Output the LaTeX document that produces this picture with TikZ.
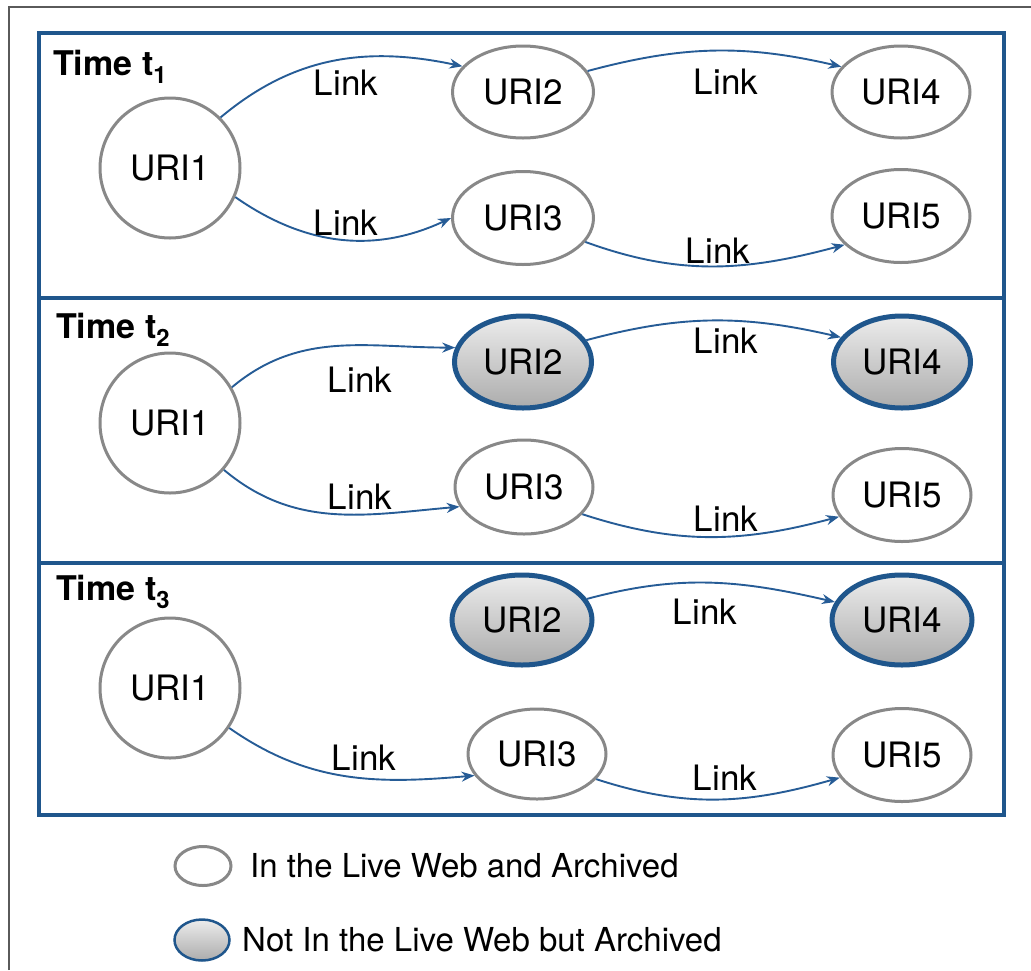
\documentclass[tikz,border=0pt]{standalone}
\usepackage{fontspec}
\setmainfont{TeX Gyre Heros}
\usetikzlibrary{shapes.geometric,arrows.meta}
\definecolor{panelblue}{RGB}{31,86,140}
\definecolor{linkblue}{RGB}{38,92,150}
\definecolor{ringgray}{RGB}{136,136,136}
\definecolor{framegray}{RGB}{90,90,90}
\definecolor{shadetop}{RGB}{236,236,236}
\definecolor{shadebot}{RGB}{172,172,172}
\begin{document}
\begin{tikzpicture}[x=1pt,y=1pt,
  live/.style={ellipse, draw=ringgray, line width=3pt, fill=white, inner sep=0pt, font=\fontsize{35}{40}\selectfont},
  gone/.style={ellipse, draw=panelblue, line width=5pt, top color=shadetop, bottom color=shadebot, inner sep=0pt, font=\fontsize{35}{40}\selectfont},
  linklbl/.style={inner sep=0pt, font=\fontsize{35}{40}\selectfont},
  timelbl/.style={anchor=base west, inner sep=0pt, font=\fontsize{34}{40}\selectfont\bfseries},
  legendlbl/.style={anchor=west, inner sep=0pt, font=\fontsize{33}{38}\selectfont},
  link/.style={draw=linkblue, line width=1.9pt, -{Stealth[length=13pt,width=10pt]}},
  panel/.style={draw=panelblue, line width=4.5pt}]
\useasboundingbox (0,0) rectangle (1031,-970);
% outer frame
\draw[framegray, line width=1.2pt] (9,-970) -- (9,-7) -- (1031,-7);
% panels
\draw[panel] (39,-33) rectangle (1004,-298);
\draw[panel] (39,-298) rectangle (1004,-563);
\draw[panel] (39,-563) rectangle (1004,-815);
% ---------- Panel 1
\node[timelbl] (t1) at (53,-75) {Time t\textsubscript{1}};
\node[live, minimum width=140pt, minimum height=140pt] (u1a) at (170,-168) {URI1};
\node[live, minimum width=141pt, minimum height=92pt] (u2a) at (523,-92) {URI2};
\node[live, minimum width=138pt, minimum height=92pt] (u4a) at (901,-92) {URI4};
\node[live, minimum width=141pt, minimum height=93pt] (u3a) at (523,-218) {URI3};
\node[live, minimum width=138pt, minimum height=93pt] (u5a) at (901,-216) {URI5};
\draw[link] (u1a.45) to[out=40, in=168] (u2a.157);
\draw[link] (u2a.18) to[out=15, in=167] (u4a.157);
\draw[link] (u1a.-24) to[out=-35, in=205] (u3a.180);
\draw[link] (u3a.-21) to[out=-20, in=195] (u5a.207);
\node[linklbl] (l1a) at (346,-83) {Link};
\node[linklbl] (l2a) at (726,-82) {Link};
\node[linklbl] (l3a) at (346,-223) {Link};
\node[linklbl] (l4a) at (718,-251) {Link};
% ---------- Panel 2
\node[timelbl] (t2) at (56,-338) {Time t\textsubscript{2}};
\node[live, minimum width=140pt, minimum height=140pt] (u1b) at (170,-423) {URI1};
\node[gone, minimum width=137pt, minimum height=92pt] (u2b) at (523,-362) {URI2};
\node[gone, minimum width=137pt, minimum height=92pt] (u4b) at (902,-362) {URI4};
\node[live, minimum width=138pt, minimum height=94pt] (u3b) at (524,-487) {URI3};
\node[live, minimum width=138pt, minimum height=93pt] (u5b) at (902,-495) {URI5};
\draw[link] (u1b.30) to[out=40, in=180] (u2b.168);
\draw[link] (u2b.19) to[out=15, in=167] (u4b.158);
\draw[link] (u1b.-41) to[out=-40, in=185] (u3b.197);
\draw[link] (u3b.-25) to[out=-18, in=195] (u5b.199);
\node[linklbl] (l1b) at (360,-380) {Link};
\node[linklbl] (l2b) at (726,-341) {Link};
\node[linklbl] (l3b) at (360,-497) {Link};
\node[linklbl] (l4b) at (726,-519) {Link};
% ---------- Panel 3
\node[timelbl] (t3) at (56,-600) {Time t\textsubscript{3}};
\node[live, minimum width=140pt, minimum height=140pt] (u1c) at (170,-688) {URI1};
\node[gone, minimum width=140pt, minimum height=90pt] (u2c) at (522,-620) {URI2};
\node[gone, minimum width=140pt, minimum height=90pt] (u4c) at (902,-620) {URI4};
\node[live, minimum width=138pt, minimum height=90pt] (u3c) at (537,-754) {URI3};
\node[live, minimum width=138pt, minimum height=93pt] (u5c) at (902,-755) {URI5};
\draw[link] (u1c.-34) to[out=-35, in=185] (u3c.199);
\draw[link] (u2c.18) to[out=15, in=167] (u4c.165);
\draw[link] (u3c.-23) to[out=-18, in=196] (u5c.200);
\node[linklbl] (l1c) at (364,-758) {Link};
\node[linklbl] (l2c) at (705,-612) {Link};
\node[linklbl] (l3c) at (725,-778) {Link};
% ---------- Legend
\node[live, minimum width=56pt, minimum height=39pt] (leglive) at (203,-866) {};
\node[legendlbl] (leglivetxt) at (250,-866) {In the Live Web and Archived};
\node[gone, line width=2.5pt, minimum width=55pt, minimum height=41pt] (leggone) at (202,-940) {};
\node[legendlbl] (leggonetxt) at (242,-940) {Not In the Live Web but Archived};
\end{tikzpicture}
\end{document}
